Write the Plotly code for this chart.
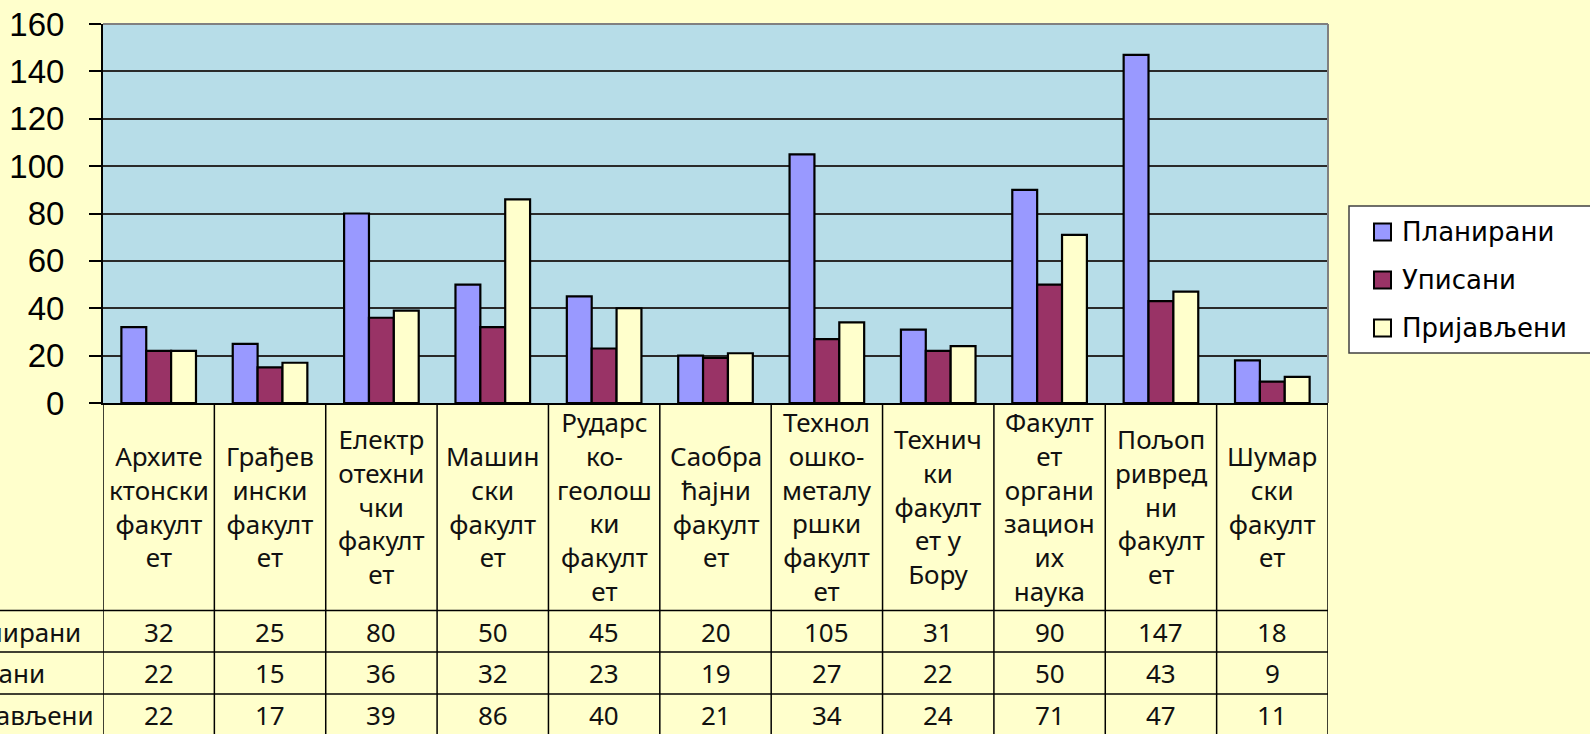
import plotly.graph_objects as go

# ---- data ----
categories = [
    "Архите\nктонски\nфакулт\nет",
    "Грађев\nински\nфакулт\nет",
    "Електр\nотехни\nчки\nфакулт\nет",
    "Машин\nски\nфакулт\nет",
    "Рударс\nко-\nгеолош\nки\nфакулт\nет",
    "Саобра\nћајни\nфакулт\nет",
    "Технол\nошко-\nметалу\nршки\nфакулт\nет",
    "Технич\nки\nфакулт\nет у\nБору",
    "Факулт\nет\nоргани\nзацион\nих\nнаука",
    "Пољоп\nривред\nни\nфакулт\nет",
    "Шумар\nски\nфакулт\nет",
]
series_names = ["Планирани", "Уписани", "Пријављени"]
planirani = [32, 25, 80, 50, 45, 20, 105, 31, 90, 147, 18]
upisani = [22, 15, 36, 32, 23, 19, 27, 22, 50, 43, 9]
prijavljeni = [22, 17, 39, 86, 40, 21, 34, 24, 71, 47, 11]
y_ticks = [0, 20, 40, 60, 80, 100, 120, 140, 160]

series_values = [planirani, upisani, prijavljeni]
colors = ["#9999FF", "#993366", "#FFFFCC"]

# ---- geometry (pixels) ----
W, H = 1590, 734
L, R, T, B = 103, 1328, 24, 403
PW, PH = R - L, B - T


def px2x(px):
    return (px - L) / PW


def py2y(py):
    return (B - py) / PH


n = len(categories)
xs = list(range(n))

fig = go.Figure()
for name, vals, col in zip(series_names, series_values, colors):
    fig.add_trace(go.Bar(
        x=xs, y=vals, name=name,
        marker=dict(color=col, line=dict(color="black", width=2.2)),
        showlegend=False,
    ))

shapes = []
annotations = []

# plot border top / right (gray)
shapes.append(dict(type="line", xref="paper", yref="paper", x0=0, x1=1, y0=1, y1=1,
                   line=dict(color="#808080", width=2), layer="above"))
shapes.append(dict(type="line", xref="paper", yref="paper", x0=1, x1=1, y0=0, y1=1,
                   line=dict(color="#808080", width=2), layer="above"))

# table vertical lines
y_bottom = py2y(745)
for i in range(n + 1):
    shapes.append(dict(type="line", xref="x", yref="paper", x0=i - 0.5, x1=i - 0.5,
                       y0=0, y1=y_bottom, line=dict(color="black", width=1.5)))
# table horizontal lines
for py in [610.5, 652, 694]:
    shapes.append(dict(type="line", xref="paper", yref="paper", x0=px2x(-20), x1=1,
                       y0=py2y(py), y1=py2y(py), line=dict(color="black", width=1.5)))

table_font = dict(family="Noto Sans", size=26, color="#111111")
# category labels
for i, c in enumerate(categories):
    annotations.append(dict(xref="x", yref="paper", x=i, y=py2y(506.5), text=c.replace("\n", "<br>"),
                            showarrow=False, xanchor="center", yanchor="middle",
                            align="center", font=table_font))
# data rows
row_centers = [631.5, 673, 714.5]
for name, vals, py in zip(series_names, series_values, row_centers):
    annotations.append(dict(xref="paper", yref="paper", x=px2x(-64), y=py2y(py), text=name,
                            showarrow=False, xanchor="left", yanchor="middle", font=table_font))
    for i, v in enumerate(vals):
        annotations.append(dict(xref="x", yref="paper", x=i, y=py2y(py), text=str(v),
                                showarrow=False, xanchor="center", yanchor="middle", font=table_font))

# legend (drawn)
shapes.append(dict(type="rect", xref="paper", yref="paper", x0=px2x(1349), x1=px2x(1600),
                   y0=py2y(353), y1=py2y(206), fillcolor="white",
                   line=dict(color="#404040", width=1.5)))
leg_centers = [232, 280, 328]
for name, col, cy in zip(series_names, colors, leg_centers):
    shapes.append(dict(type="rect", xref="paper", yref="paper", x0=px2x(1374), x1=px2x(1391),
                       y0=py2y(cy + 8.5), y1=py2y(cy - 8.5), fillcolor=col,
                       line=dict(color="black", width=2)))
    annotations.append(dict(xref="paper", yref="paper", x=px2x(1400), y=py2y(cy), text=name,
                            showarrow=False, xanchor="left", yanchor="middle",
                            font=dict(family="DejaVu Sans", size=26, color="black")))

fig.update_layout(
    width=W, height=H,
    margin=dict(l=L, r=W - R, t=T, b=H - B, pad=0, autoexpand=False),
    paper_bgcolor="#FFFFCC",
    plot_bgcolor="#B7DDE8",
    barmode="group",
    bargap=0.33,
    bargroupgap=0,
    shapes=shapes,
    annotations=annotations,
    showlegend=False,
)
fig.update_xaxes(
    type="linear", range=[-0.5, n - 0.5], showticklabels=False, showgrid=False,
    zeroline=False, showline=True, linecolor="black", linewidth=2, ticks="",
    automargin=False,
)
fig.update_yaxes(
    range=[0, 160], tickvals=y_ticks, ticks="outside", ticklen=12, tickwidth=1.5,
    tickcolor="black", showline=True, linecolor="black", linewidth=2,
    showgrid=True, gridcolor="#2a2a2a", gridwidth=1.5, zeroline=False,
    tickfont=dict(family="Liberation Sans", size=33, color="black"),
    ticklabelstandoff=18, automargin=False,
)

fig.write_html(
    "out.html",
    config={"displayModeBar": False},
    post_script="document.body.style.margin='0';document.body.style.background='#FFFFCC';",
)
